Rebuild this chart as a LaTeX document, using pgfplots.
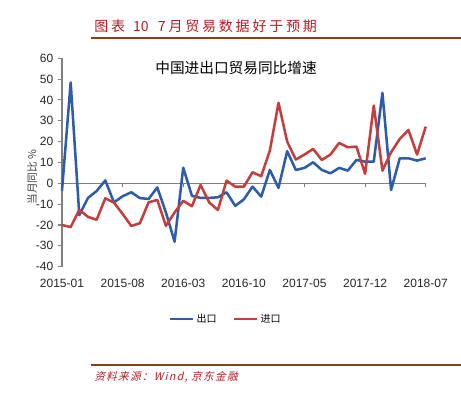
\documentclass[border=0pt]{standalone}
\usepackage{pgfplots}
\pgfplotsset{compat=1.18}
\usepackage{fontspec}
\setmainfont{Liberation Sans}
\newfontfamily\cjk{Noto Sans CJK SC}
\newfontfamily\cjktitle[LetterSpace=20]{Noto Sans CJK SC}
\newfontfamily\cjkit[FakeSlant=0.25,LetterSpace=12]{Noto Sans CJK SC}
\definecolor{expblue}{RGB}{44,92,170}
\definecolor{impred}{RGB}{196,62,62}
\definecolor{titlered}{RGB}{178,28,38}
\definecolor{brownline}{RGB}{140,62,20}
\definecolor{axgray}{RGB}{128,128,128}

\pgfplotstableread{
i exp imp
0 -3.5 -20.0
1 48.4 -21.0
2 -15.3 -12.7
3 -7.0 -16.1
4 -3.7 -17.5
5 1.4 -7.2
6 -9.2 -9.3
7 -6.2 -14.7
8 -4.3 -20.5
9 -7.1 -19.1
10 -7.5 -9.1
11 -2.0 -8.0
12 -14.0 -20.4
13 -28.0 -14.0
14 7.5 -8.4
15 -6.0 -11.0
16 -7.0 -0.8
17 -7.0 -9.2
18 -6.7 -12.8
19 -4.3 1.3
20 -10.8 -1.6
21 -7.7 -1.6
22 -1.6 5.3
23 -6.4 3.4
24 6.4 15.7
25 -2.2 38.6
26 15.4 20.0
27 6.4 11.4
28 7.4 13.8
29 10.1 16.5
30 6.4 11.2
31 4.8 13.8
32 7.4 19.4
33 6.1 17.3
34 11.2 17.6
35 10.4 4.5
36 10.4 37.3
37 43.4 6.1
38 -3.2 14.9
39 12.0 21.3
40 12.0 25.6
41 10.9 13.8
42 12.0 27.2
}\tradedata

\begin{document}
\begin{tikzpicture}
\useasboundingbox (0,0) rectangle (345.75pt,-297pt);
\begin{scope}[x=0.75pt,y=-0.75pt]
  \draw[brownline, line width=1.6pt] (91,38) -- (461,38);
  \node[anchor=west, inner sep=0pt, text=titlered, font=\fontsize{10.5}{12}\selectfont] at (94,26) {{\cjktitle 图表}\hspace{6pt}{\cjk 10}\hspace{7pt}{\cjktitle 7月贸易数据好于预期}};
  \draw[brownline, line width=1.6pt] (91,365) -- (461,365);
  \node[anchor=west, inner sep=0pt, text=titlered, font=\cjkit\fontsize{8}{10}\selectfont] at (94,377) {资料来源：Wind, 京东金融};
  \node[inner sep=0pt, font=\cjk\fontsize{11}{13}\selectfont] at (236,68) {中国进出口贸易同比增速};
\end{scope}
\node[inner sep=0pt, rotate=90, text=black!75, font=\cjk\fontsize{8}{10}\selectfont] at (24pt,-132.75pt) {当月同比 \%};
\begin{axis}[
  at={(46.5pt,-200pt)}, anchor=south west,
  scale only axis, width=272.8pt, height=156.3pt,
  xmin=0, xmax=42, ymin=-40, ymax=60,
  axis y line*=left, axis x line*=bottom,
  x axis line style={draw=none},
  y axis line style={draw=axgray, line width=0.8pt},
  ytick={-40,-30,...,60},
  xtick={0,7,14,21,28,35,42},
  xticklabels={2015-01,2015-08,2016-03,2016-10,2017-05,2017-12,2018-07},
  xtick style={draw=none},
  ytick style={draw=axgray, line width=0.8pt},
  tick align=outside,
  major tick length=3pt,
  /pgf/number format/assume math mode=true,
  ticklabel style={font=\fontsize{9}{10}\selectfont, text=black!85},
  xticklabel style={yshift=-3pt},
  legend style={draw=none, fill=none, legend columns=2, at={(0.451,-0.251)}, anchor=center,
    font=\cjk\fontsize{7.5}{9}\selectfont,
    /tikz/every even column/.append style={column sep=10pt}},
  legend cell align=left,
  clip=false,
]
\draw[axgray, line width=1.1pt] (axis cs:0,0) -- (axis cs:42,0);
\pgfplotsinvokeforeach{7,14,21,28,35,42}{\draw[axgray, line width=0.8pt] (axis cs:#1,0) -- ([yshift=-3pt]axis cs:#1,0);}
\addplot[expblue, line width=1.9pt, line join=round] table[x=i, y=exp] {\tradedata};
\addlegendentry{出口}
\addplot[impred, line width=1.9pt, line join=round] table[x=i, y=imp] {\tradedata};
\addlegendentry{进口}
\end{axis}
\end{tikzpicture}
\end{document}
